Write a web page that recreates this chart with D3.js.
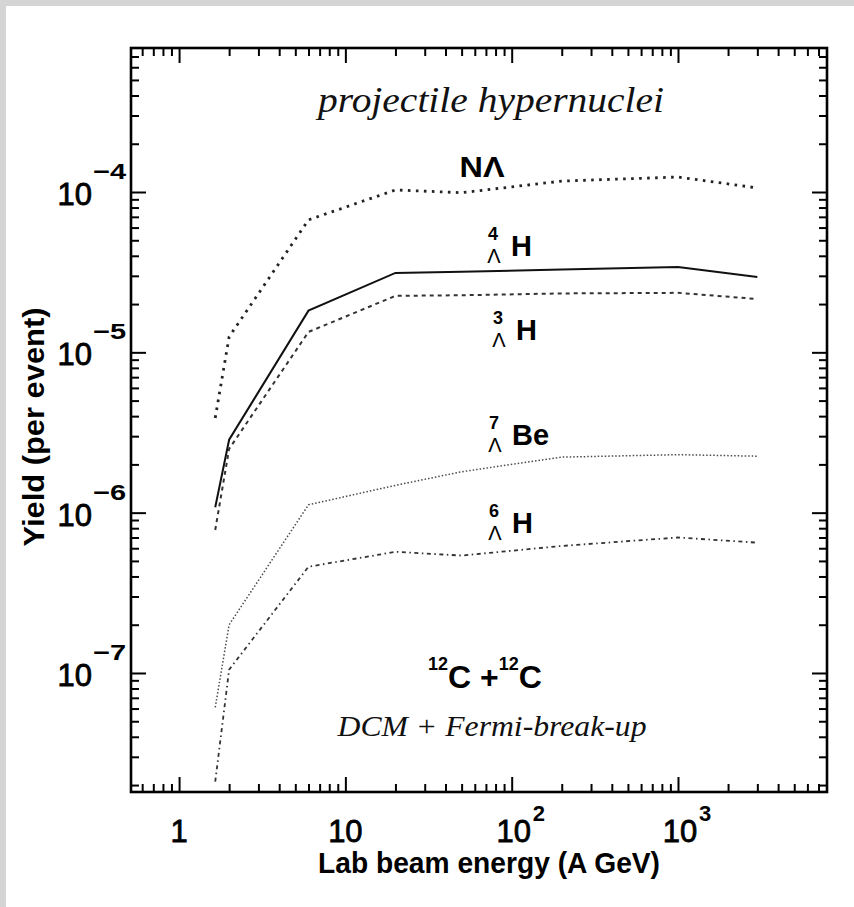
<!DOCTYPE html>
<html>
<head>
<meta charset="utf-8">
<script src="https://cdnjs.cloudflare.com/ajax/libs/d3/7.8.5/d3.min.js"></script>
<style>
    body { margin: 0; background: #fff; }
    svg { display: block; }
    .frame { fill: none; stroke: #000; stroke-width: 2.6; }
    .axis line { stroke: #000; stroke-width: 2; }
    .axis path { display: none; }
    .sans { font-family: "Liberation Sans", Arial, Helvetica, sans-serif; fill: #000; }
    .digits { stroke: #000; stroke-width: 0.8; }
    .serif { font-family: "Liberation Serif", "Times New Roman", serif; font-style: italic; fill: #111; }
</style>
</head>
<body>
<div id="chart"></div>
<script>
'use strict';

// beam energies (A GeV) of the model points
var energies = [1.65, 2, 6, 20, 50, 200, 1000, 3000];

// yields per event
var yieldNLambda = [3.9e-6, 1.25e-5, 6.7e-5, 1.03e-4, 0.99e-4, 1.17e-4, 1.24e-4, 1.06e-4];
var yieldH4 = [1.08e-6, 2.85e-6, 1.82e-5, 3.13e-5, 3.18e-5, 3.28e-5, 3.41e-5, 2.95e-5];
var yieldH3 = [7.8e-7, 2.5e-6, 1.34e-5, 2.25e-5, 2.27e-5, 2.33e-5, 2.35e-5, 2.15e-5];
var yieldBe7 = [6.1e-8, 2.0e-7, 1.12e-6, 1.48e-6, 1.8e-6, 2.22e-6, 2.3e-6, 2.25e-6];
var yieldH6 = [2.1e-8, 1.05e-7, 4.6e-7, 5.7e-7, 5.4e-7, 6.2e-7, 7.0e-7, 6.5e-7];

// tick labels
var xMajorTicks = [1, 10, 100, 1000];
var xTickBase = ['1', '10', '10', '10'];
var xTickExp = ['', '', '2', '3'];
var yMajorTicks = [1e-7, 1e-6, 1e-5, 1e-4];
var yTickExp = ['\u22127', '\u22126', '\u22125', '\u22124'];

(function () {
    var width = 854,
        height = 907,
        plot = {left: 131, right: 827, top: 48, bottom: 792};

    var svg = d3.select('#chart').append('svg')
        .attr('width', width)
        .attr('height', height);

    // grey page edge on the top and left
    svg.append('rect').attr('width', width).attr('height', height).attr('fill', '#d5d5d5');
    svg.append('rect').attr('x', 6).attr('y', 6).attr('width', width - 6).attr('height', height - 6).attr('fill', '#fff');

    var x = d3.scaleLog().domain([0.514, 7870]).range([plot.left, plot.right]);
    var y = d3.scaleLog().domain([1.81e-8, 7.91e-4]).range([plot.bottom, plot.top]);

    /**
     * 2..9 times each decade, inside the domain
     */
    function minorTicks(domain) {
        var out = [];
        var lo = Math.floor(Math.log10(domain[0])),
            hi = Math.ceil(Math.log10(domain[1]));
        for (var e = lo; e < hi; e++) {
            for (var k = 2; k <= 9; k++) {
                var v = k * Math.pow(10, e);
                if (v >= domain[0] && v <= domain[1]) {
                    out.push(v);
                }
            }
        }
        return out;
    }

    // ticks on all four sides, pointing inwards
    var sides = [
        {axis: d3.axisBottom(x), t: 'translate(0,' + plot.bottom + ')', majors: xMajorTicks, dom: x.domain()},
        {axis: d3.axisTop(x), t: 'translate(0,' + plot.top + ')', majors: xMajorTicks, dom: x.domain()},
        {axis: d3.axisLeft(y), t: 'translate(' + plot.left + ',0)', majors: yMajorTicks, dom: y.domain()},
        {axis: d3.axisRight(y), t: 'translate(' + plot.right + ',0)', majors: yMajorTicks, dom: y.domain()}
    ];
    sides.forEach(function (s) {
        svg.append('g').attr('class', 'axis').attr('transform', s.t)
            .call(s.axis.tickValues(minorTicks(s.dom)).tickSizeInner(-8).tickSizeOuter(0).tickFormat(''));
        svg.append('g').attr('class', 'axis').attr('transform', s.t)
            .call(s.axis.tickValues(s.majors).tickSizeInner(-15).tickSizeOuter(0).tickFormat(''));
    });

    svg.append('rect').attr('class', 'frame')
        .attr('x', plot.left).attr('y', plot.top)
        .attr('width', plot.right - plot.left).attr('height', plot.bottom - plot.top);

    // x tick labels
    xMajorTicks.forEach(function (v, i) {
        var px = x(v);
        svg.append('text').attr('class', 'sans digits')
            .attr('x', px + (xTickExp[i] ? 2 : 0)).attr('y', 842)
            .attr('text-anchor', 'middle')
            .attr('font-size', 31)
            .text(xTickBase[i]);
        if (xTickExp[i]) {
            svg.append('text').attr('class', 'sans')
                .attr('x', px + 21).attr('y', 821)
                .attr('font-size', 22)
                .attr('font-weight', 'bold')
                .text(xTickExp[i]);
        }
    });

    // y tick labels
    yMajorTicks.forEach(function (v, i) {
        var py = y(v);
        svg.append('text').attr('class', 'sans digits')
            .attr('x', 92).attr('y', py + 13)
            .attr('text-anchor', 'end')
            .attr('font-size', 31)
            .text('10');
        svg.append('text').attr('class', 'sans')
            .attr('x', 93).attr('y', py - 13)
            .attr('font-size', 22)
            .attr('font-weight', 'bold')
            .attr('textLength', 33).attr('lengthAdjust', 'spacingAndGlyphs')
            .text(yTickExp[i]);
    });

    // axis titles
    svg.append('text').attr('class', 'sans')
        .attr('x', 489).attr('y', 873)
        .attr('text-anchor', 'middle')
        .attr('font-size', 30)
        .attr('font-weight', 'bold')
        .attr('textLength', 342).attr('lengthAdjust', 'spacingAndGlyphs')
        .text('Lab beam energy (A GeV)');

    svg.append('text').attr('class', 'sans')
        .attr('transform', 'translate(44,427) rotate(-90)')
        .attr('text-anchor', 'middle')
        .attr('font-size', 30)
        .attr('font-weight', 'bold')
        .attr('textLength', 239).attr('lengthAdjust', 'spacingAndGlyphs')
        .text('Yield (per event)');

    // model curves
    var series = [
        {values: yieldNLambda, dash: '2.6 5.4', w: 2.8, color: '#222'},
        {values: yieldH4, dash: null, w: 2, color: '#111'},
        {values: yieldH3, dash: '4 4', w: 2, color: '#333'},
        {values: yieldBe7, dash: '1.5 2', w: 1.5, color: '#4a4a4a'},
        {values: yieldH6, dash: '4 3.5 1.5 3.5', w: 1.8, color: '#333'}
    ];

    var line = d3.line()
        .x(function (d) { return x(d[0]); })
        .y(function (d) { return y(d[1]); });

    series.forEach(function (s) {
        svg.append('path')
            .datum(d3.zip(energies, s.values))
            .attr('fill', 'none')
            .attr('stroke', s.color)
            .attr('stroke-width', s.w)
            .attr('stroke-dasharray', s.dash)
            .attr('d', line);
    });

    // curve labels
    svg.append('text').attr('class', 'serif')
        .attr('x', 491).attr('y', 112)
        .attr('text-anchor', 'middle')
        .attr('font-size', 35)
        .attr('textLength', 346).attr('lengthAdjust', 'spacingAndGlyphs')
        .text('projectile hypernuclei');

    svg.append('text').attr('class', 'sans')
        .attr('x', 482).attr('y', 177)
        .attr('text-anchor', 'middle')
        .attr('font-size', 29)
        .attr('font-weight', 'bold')
        .attr('textLength', 45).attr('lengthAdjust', 'spacingAndGlyphs')
        .text('N\u039b');

    function hypernucleus(cx, base, mass, symbol) {
        var g = svg.append('g');
        g.append('text').attr('class', 'sans')
            .attr('x', cx).attr('y', base - 23)
            .attr('text-anchor', 'middle')
            .attr('font-size', 18).attr('font-weight', 'bold')
            .text(mass);
        g.append('text').attr('class', 'sans')
            .attr('x', cx + 1).attr('y', base)
            .attr('text-anchor', 'middle')
            .attr('font-size', 20)
            .text('\u039b');
        g.append('text').attr('class', 'sans')
            .attr('x', cx + 18).attr('y', base - 7)
            .attr('font-size', 29).attr('font-weight', 'bold')
            .text(symbol);
        return g;
    }

    hypernucleus(493, 263, '4', 'H');
    hypernucleus(498, 347, '3', 'H');
    hypernucleus(494, 452, '7', 'Be');
    hypernucleus(494, 540, '6', 'H');

    var reaction = svg.append('text').attr('class', 'sans')
        .attr('x', 485).attr('y', 688)
        .attr('text-anchor', 'middle')
        .attr('font-weight', 'bold');
    reaction.append('tspan').attr('font-size', 18).attr('dy', -18).text('12');
    reaction.append('tspan').attr('font-size', 32).attr('dy', 18).text('C +');
    reaction.append('tspan').attr('font-size', 18).attr('dy', -18).text('12');
    reaction.append('tspan').attr('font-size', 32).attr('dy', 18).text('C');

    svg.append('text').attr('class', 'serif')
        .attr('x', 492).attr('y', 736)
        .attr('text-anchor', 'middle')
        .attr('font-size', 29)
        .attr('textLength', 309).attr('lengthAdjust', 'spacingAndGlyphs')
        .text('DCM + Fermi-break-up');
})();
</script>
</body>
</html>
